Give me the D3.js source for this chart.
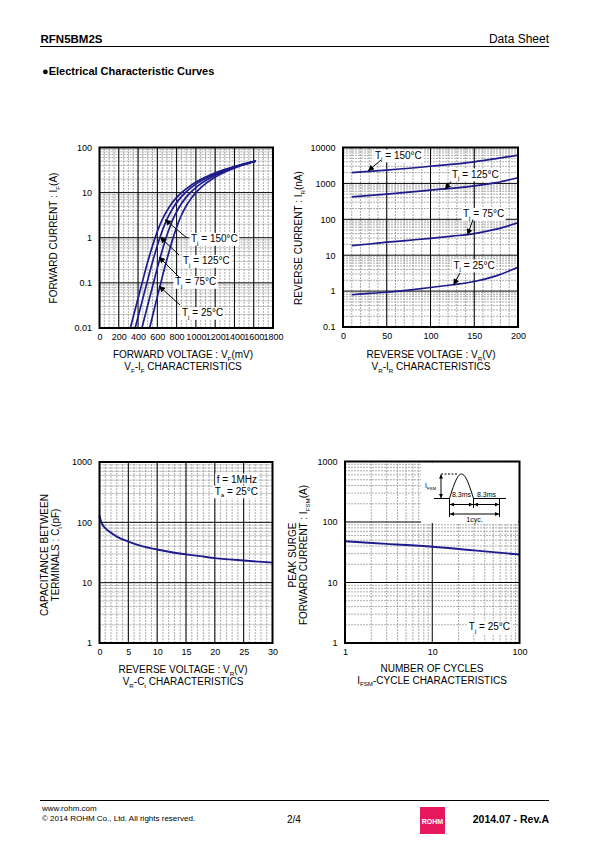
<!DOCTYPE html>
<html><head><meta charset="utf-8">
<script src="https://cdn.jsdelivr.net/npm/d3@7"></script>
<style>
body{margin:0;background:#fff}
svg{display:block}
text{font-family:"Liberation Sans",Arial,Helvetica,sans-serif;fill:#000}
</style>
</head><body>
<svg id="c" width="595" height="842"></svg>
<script>
// ---------------- DATA ----------------
// VF-IF (mV, A)
const vfTicks = [0,200,400,600,800,1000,1200,1400,1600,1800];
const ifTicks = [0.01,0.1,1,10,100];
const ifTickLabels = ["0.01","0.1","1","10","100"];
const ifLevels = [0.01,0.03,0.1,0.3,1,2,3,5,7,10,15,20,30,40,50];
const vf150 = [320,378,442,502,577,630,669,729,781,851,958,1058,1250,1436,1620];
const vf125 = [370,428,492,552,626,678,716,774,824,891,993,1088,1270,1446,1620];
const vf75  = [440,497,560,619,691,741,777,833,880,943,1038,1128,1297,1461,1620];
const vf25  = [520,575,636,694,764,812,845,898,942,1000,1088,1170,1325,1474,1620];

// VR-IR (V, nA)
const vrTicks = [0,50,100,150,200];
const irTicks = [0.1,1,10,100,1000,10000];
const irTickLabels = ["0.1","1","10","100","1000","10000"];
const vrIr150 = [[10,2000],[50,2340],[100,3000],[150,4000],[175,4900],[200,6100]];
const vrIr125 = [[10,420],[50,500],[100,650],[150,850],[175,1050],[200,1440]];
const vrIr75  = [[10,18.5],[30,20.5],[50,23],[75,26],[100,29.5],[125,34],[150,40],[175,53],[200,80]];
const vrIr25  = [[10,0.79],[30,0.86],[50,0.93],[75,1.07],[100,1.26],[125,1.5],[150,1.85],[175,2.66],[200,4.6]];

// VR-Ct (V, pF)
const vcTicks = [0,5,10,15,20,25,30];
const ctTicks = [1,10,100,1000];
const ctTickLabels = ["1","10","100","1000"];
const vrCt = [[0,130],[0.25,105],[0.5,92],[1,80],[2,67],[3,58],[5,48],[7.5,40],[10,35.5],[12.5,32],[15,29.5],[17.5,27.5],[20,25.5],[22.5,24.3],[25,23.3],[27.5,22.3],[30,21.5]];

// IFSM-cycles (cycles, A)
const cycTicks = [1,10,100];
const cycTickLabels = ["1","10","100"];
const ifsmTicks = [1,10,100,1000];
const ifsmTickLabels = ["1","10","100","1000"];
const ifsm = [[1,48],[3,43.5],[10,39],[30,34],[100,29]];

// ---------------- DRAWING ----------------
const svg = d3.select("#c");
const NAVY = "#1c1c8c";
const FONT = '"Liberation Sans",Arial,Helvetica,sans-serif';

const defs = svg.append("defs");
defs.append("marker").attr("id","ah").attr("viewBox","0 0 10 10").attr("refX",10).attr("refY",5)
  .attr("markerWidth",7).attr("markerHeight",6).attr("markerUnits","userSpaceOnUse").attr("orient","auto-start-reverse")
  .append("path").attr("d","M0,0L10,5L0,10z").attr("fill","#000");
defs.append("marker").attr("id","ahs").attr("viewBox","0 0 10 10").attr("refX",10).attr("refY",5)
  .attr("markerWidth",5).attr("markerHeight",4).attr("markerUnits","userSpaceOnUse").attr("orient","auto-start-reverse")
  .append("path").attr("d","M0,0L10,5L0,10z").attr("fill","#000");

function rich(sel, parts, size){
  let prevSub = false;
  parts.forEach(p=>{
    const t = sel.append("tspan").text(p[0]);
    if(p[1]){ t.attr("font-size",size*0.62).attr("dy",size*0.28); }
    else if(prevSub){ t.attr("dy",-size*0.28); }
    prevSub = !!p[1];
  });
  return sel;
}

function minorLog(domain){
  const out=[]; let d=domain[0];
  while(d<domain[1]){ for(let k=2;k<=9;k++) out.push(d*k); d*=10; }
  return out;
}
function minorLin(domain, step){
  const out=[]; for(let v=domain[0]+step; v<domain[1]-1e-9; v+=step) out.push(v); return out;
}

function panel(o){
  const g = svg.append("g");
  const [x0,x1]=o.x.range(), [y0,y1]=o.y.range();
  const gm = g.append("g").attr("stroke","#8a8a8a").attr("stroke-width",0.7).attr("stroke-dasharray","2,1");
  gm.selectAll(".mx").data(o.minorX).join("line").attr("x1",d=>o.x(d)).attr("x2",d=>o.x(d)).attr("y1",y0).attr("y2",y1);
  gm.selectAll(".my").data(o.minorY).join("line").attr("y1",d=>o.y(d)).attr("y2",d=>o.y(d)).attr("x1",x0).attr("x2",x1);
  const gM = g.append("g").attr("stroke","#000").attr("stroke-width",1);
  gM.selectAll(".Mx").data(o.majorX).join("line").attr("x1",d=>o.x(d)).attr("x2",d=>o.x(d)).attr("y1",y0).attr("y2",y1);
  gM.selectAll(".My").data(o.majorY).join("line").attr("y1",d=>o.y(d)).attr("y2",d=>o.y(d)).attr("x1",x0).attr("x2",x1);
  const ax = d3.axisBottom(o.x).tickValues(o.xTicks).tickSize(0).tickPadding(5.5).tickFormat((d,i)=>o.xLabels?o.xLabels[i]:d);
  g.append("g").attr("transform",`translate(0,${y0})`).call(ax).call(s=>s.select(".domain").remove())
    .selectAll("text").attr("font-size",9).attr("font-family",FONT).attr("fill","#000");
  const ay = d3.axisLeft(o.y).tickValues(o.yTicks).tickSize(0).tickPadding(7.5).tickFormat((d,i)=>o.yLabels[i]);
  g.append("g").attr("transform",`translate(${x0},0)`).call(ay).call(s=>s.select(".domain").remove())
    .selectAll("text").attr("font-size",9).attr("font-family",FONT).attr("fill","#000");
  return g;
}
function frame(o){
  const [x0,x1]=o.x.range(), [y0,y1]=o.y.range();
  svg.append("rect").attr("x",x0).attr("y",y1).attr("width",x1-x0).attr("height",y0-y1)
    .attr("fill","none").attr("stroke","#000").attr("stroke-width",2);
}
function curve(o, data, w){
  svg.append("path").datum(data).attr("fill","none").attr("stroke",NAVY).attr("stroke-width",w||1.7)
    .attr("d", d3.line().x(d=>o.x(d[0])).y(d=>o.y(d[1])).curve(d3.curveMonotoneX));
}
function label(x, y, parts, size, bg, anchor){
  const g = svg.append("g");
  const t = g.append("text").attr("x",x).attr("y",y).attr("font-size",size).attr("text-anchor",anchor||"start");
  rich(t, parts, size);
  if(bg){
    const b = t.node().getBBox();
    g.insert("rect","text").attr("x",b.x-1.5).attr("y",b.y).attr("width",b.width+3).attr("height",b.height).attr("fill","#fff");
  }
  return t;
}
function arrow(x1,y1,x2,y2){
  svg.append("line").attr("x1",x1).attr("y1",y1).attr("x2",x2).attr("y2",y2)
    .attr("stroke","#000").attr("stroke-width",1).attr("marker-end","url(#ah)");
}
function tj(x,y,t,size){ return label(x,y,[["T",0],["j",1],[" = "+t+"°C",0]],size||10,true); }
function rotTitle(cx, cy, parts, size){
  const t = svg.append("text").attr("transform",`translate(${cx},${cy}) rotate(-90)`).attr("text-anchor","middle").attr("font-size",size);
  rich(t, parts, size);
}
function xTitle(cx, y, parts, size){
  const t = svg.append("text").attr("x",cx).attr("y",y).attr("text-anchor","middle").attr("font-size",size);
  rich(t, parts, size);
}

// ---- Header ----
svg.append("text").attr("x",40.5).attr("y",42.5).attr("font-size",11.5).attr("font-weight","bold").text("RFN5BM2S");
svg.append("text").attr("x",549).attr("y",42.5).attr("font-size",12).attr("text-anchor","end").text("Data Sheet");
svg.append("line").attr("x1",40).attr("x2",549).attr("y1",46.5).attr("y2",46.5).attr("stroke","#000").attr("stroke-width",1);
svg.append("text").attr("x",42).attr("y",75).attr("font-size",11).attr("font-weight","bold").text("●Electrical Characteristic Curves");

// ---- Panel 1: VF-IF ----
const p1 = {x:d3.scaleLinear().domain([0,1800]).range([99.5,273]), y:d3.scaleLog().domain([0.01,100]).range([328,147.5])};
Object.assign(p1,{minorX:minorLin([0,1800],50), minorY:minorLog([0.01,100]), majorX:vfTicks, majorY:ifTicks, xTicks:vfTicks, yTicks:ifTicks, yLabels:ifTickLabels});
panel(p1);
[vf150,vf125,vf75,vf25].forEach(v=>curve(p1, v.map((mv,i)=>[mv, ifLevels[i]])));
frame(p1);
tj(191,242,"150"); arrow(187,238,165,219.5);
tj(183,264,"125"); arrow(179,255,160,237);
tj(175,285,"75");  arrow(179,277,159,257);
tj(182,316,"25");  arrow(180,305,159,286);
rotTitle(57,238,[["FORWARD CURRENT : I",0],["F",1],["(A)",0]],10);
xTitle(183,358,[["FORWARD VOLTAGE : V",0],["F",1],["(mV)",0]],10);
xTitle(183,370,[["V",0],["F",1],["-I",0],["F",1],[" CHARACTERISTICS",0]],10);

// ---- Panel 2: VR-IR ----
const p2 = {x:d3.scaleLinear().domain([0,200]).range([343,518]), y:d3.scaleLog().domain([0.1,10000]).range([327,147.5])};
Object.assign(p2,{minorX:minorLin([0,200],10), minorY:minorLog([0.1,10000]), majorX:vrTicks, majorY:irTicks, xTicks:vrTicks, yTicks:irTicks, yLabels:irTickLabels});
panel(p2);
[vrIr150,vrIr125,vrIr75,vrIr25].forEach(d=>curve(p2,d));
frame(p2);
tj(375,158.5,"150"); arrow(381,160,368,171);
tj(452,177.5,"125"); arrow(451,181.5,445,189.5);
tj(463,217,"75");   arrow(473,219.5,467.5,235);
tj(453.5,268.5,"25"); arrow(460,273,453.5,285);
rotTitle(302,238,[["REVERSE CURRENT : I",0],["R",1],["(nA)",0]],10);
xTitle(431,358,[["REVERSE VOLTAGE : V",0],["R",1],["(V)",0]],10);
xTitle(431,370,[["V",0],["R",1],["-I",0],["R",1],[" CHARACTERISTICS",0]],10);

// ---- Panel 3: VR-Ct ----
const p3 = {x:d3.scaleLinear().domain([0,30]).range([99.5,272.5]), y:d3.scaleLog().domain([1,1000]).range([643,462])};
Object.assign(p3,{minorX:minorLin([0,30],1), minorY:minorLog([1,1000]), majorX:vcTicks, majorY:ctTicks, xTicks:vcTicks, yTicks:ctTicks, yLabels:ctTickLabels});
panel(p3);
curve(p3,vrCt,1.9);
frame(p3);
label(257,482.5,[["f = 1MHz",0]],10,true,"end");
label(258,494.5,[["T",0],["a",1],[" = 25°C",0]],10,true,"end");
rotTitle(48,555,[["CAPACITANCE BETWEEN",0]],10);
rotTitle(59,555,[["TERMINALS : C",0],["t",1],["(pF)",0]],10);
xTitle(183,673,[["REVERSE VOLTAGE : V",0],["R",1],["(V)",0]],10);
xTitle(183,685,[["V",0],["R",1],["-C",0],["t",1],[" CHARACTERISTICS",0]],10);

// ---- Panel 4: IFSM-cycles ----
const p4 = {x:d3.scaleLog().domain([1,100]).range([345,519.5]), y:d3.scaleLog().domain([1,1000]).range([643,461.5])};
Object.assign(p4,{minorX:minorLog([1,100]), minorY:minorLog([1,1000]), majorX:cycTicks, majorY:ifsmTicks, xTicks:cycTicks, xLabels:cycTickLabels, yTicks:ifsmTicks, yLabels:ifsmTickLabels});
panel(p4);
curve(p4,ifsm,1.9);
svg.append("rect").attr("x",421).attr("y",462.5).attr("width",97).attr("height",60.5).attr("fill","#fff");
frame(p4);
label(510,630,[["T",0],["j",1],[" = 25°C",0]],10,true,"end");
(function(){
  const g = svg.append("g").attr("stroke","#000").attr("fill","none").attr("stroke-width",1);
  const base=498.5, xa=449.5, xb=473.5, xc=499.5, top=474;
  g.append("path").attr("d",`M434,${base}H${xa}`);
  g.append("path").attr("d",d3.range(0,1.0001,0.05).map((t,i)=>(i?"L":"M")+(xa+(xb-xa)*t).toFixed(2)+","+(base-(base-top)*Math.sin(Math.PI*t)).toFixed(2)).join(""));
  g.append("path").attr("d",`M${xb},${base}H506`);
  g.append("line").attr("x1",441).attr("x2",441).attr("y1",top+0.5).attr("y2",base-0.5).attr("marker-end","url(#ahs)").attr("marker-start","url(#ahs)");
  g.append("line").attr("x1",441).attr("x2",457).attr("y1",top).attr("y2",top).attr("stroke-dasharray","2,1.5");
  g.append("line").attr("x1",xa).attr("x2",xa).attr("y1",base).attr("y2",517);
  g.append("line").attr("x1",xb).attr("x2",xb).attr("y1",base).attr("y2",508);
  g.append("line").attr("x1",xc).attr("x2",xc).attr("y1",base).attr("y2",517);
  g.append("line").attr("x1",xa+0.5).attr("x2",xb-0.5).attr("y1",504.5).attr("y2",504.5).attr("marker-end","url(#ahs)").attr("marker-start","url(#ahs)");
  g.append("line").attr("x1",xb+0.5).attr("x2",xc-0.5).attr("y1",504.5).attr("y2",504.5).attr("marker-end","url(#ahs)").attr("marker-start","url(#ahs)");
  g.append("line").attr("x1",xa+0.5).attr("x2",xc-0.5).attr("y1",514).attr("y2",514).attr("marker-end","url(#ahs)").attr("marker-start","url(#ahs)");
  label(461.5,497,[["8.3ms",0]],7,false,"middle");
  label(486.5,497,[["8.3ms",0]],7,false,"middle");
  label(474.5,521.5,[["1cyc.",0]],7,false,"middle");
  label(425,488,[["I",0],["FSM",1]],7,false,"start");
})();
rotTitle(296,555,[["PEAK SURGE",0]],10);
rotTitle(307,555,[["FORWARD CURRENT : I",0],["FSM",1],["(A)",0]],10);
xTitle(432,671.5,[["NUMBER OF CYCLES",0]],10);
xTitle(432,683.5,[["I",0],["FSM",1],["-CYCLE CHARACTERISTICS",0]],10);

// ---- Footer ----
svg.append("line").attr("x1",40).attr("x2",549).attr("y1",800.5).attr("y2",800.5).attr("stroke","#000").attr("stroke-width",1);
svg.append("text").attr("x",42).attr("y",811).attr("font-size",8).text("www.rohm.com");
svg.append("text").attr("x",42).attr("y",820.5).attr("font-size",8).text("© 2014  ROHM Co., Ltd. All rights reserved.");
svg.append("text").attr("x",287).attr("y",823).attr("font-size",10).text("2/4");
svg.append("rect").attr("x",420).attr("y",807).attr("width",25).attr("height",27).attr("fill","#e8185f");
svg.append("text").attr("x",432.5).attr("y",824).attr("font-size",7).attr("font-weight","bold").attr("text-anchor","middle").style("fill","#fff").text("ROHM");
svg.append("text").attr("x",549).attr("y",822.5).attr("font-size",10.5).attr("font-weight","bold").attr("text-anchor","end").text("2014.07 -  Rev.A");
</script>
</body></html>
